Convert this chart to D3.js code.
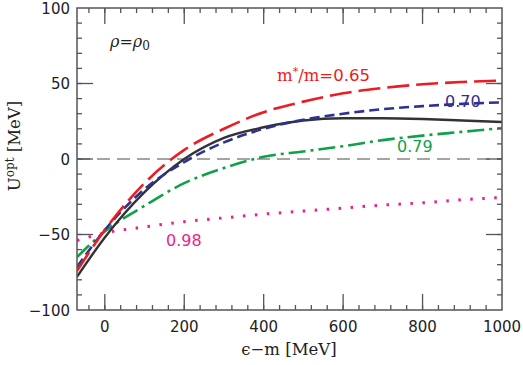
<!DOCTYPE html>
<html><head><meta charset="utf-8">
<script src="https://cdn.jsdelivr.net/npm/d3@7"></script>
<style>body{margin:0;background:#fff}svg{display:block}</style>
</head><body>
<script>
const xs = [-70, 0, 100, 200, 300, 400, 500, 600, 700, 800, 900, 1000];
const seriesBlack = [-78, -52, -22, 0, 14, 21, 25.5, 27, 27, 26.5, 25.5, 24.5];
const seriesRed   = [-74, -47, -16, 6, 20, 31, 38, 43.5, 47, 49.5, 51, 52];
const seriesBlue  = [-71.5, -47, -20, -2, 11, 20, 26, 30, 33, 35, 36.5, 37.5];
const seriesGreen = [-65, -48, -31, -16, -6, 1.5, 5, 8.5, 12.5, 15.5, 18, 20.5];
const seriesPink  = [-54, -49, -45, -41.5, -39, -36.5, -34.5, -32.5, -30.5, -29, -27, -25.5];
const xTicks = [0, 200, 400, 600, 800, 1000];
const yTicks = [-100, -50, 0, 50, 100];

const W = 523, H = 365;
const L = 77, R = 502, T = 8, B = 310;
const svg = d3.select("body").append("svg").attr("width", W).attr("height", H);
const x = d3.scaleLinear().domain([-70, 1000]).range([L, R]);
const y = d3.scaleLinear().domain([-100, 100]).range([B, T]);

svg.append("line").attr("x1", L).attr("x2", R).attr("y1", y(0)).attr("y2", y(0))
  .attr("stroke", "#888").attr("stroke-width", 1.6).attr("stroke-dasharray", "13,7");

const line = d3.line().x((d, i) => x(xs[i])).y(d => y(d)).curve(d3.curveMonotoneX);
const defs = [
  {d: seriesPink, c: "#ee1d8c", w: 3, dash: "2.5,9.5"},
  {d: seriesGreen, c: "#11a04a", w: 2.6, dash: "17,5,3,5"},
  {d: seriesBlack, c: "#333", w: 2.4, dash: null},
  {d: seriesBlue, c: "#2e3192", w: 2.6, dash: "10,5"},
  {d: seriesRed, c: "#ed1c24", w: 2.6, dash: "22,7"}
];
const g = svg.append("g");
g.append("clipPath").attr("id","cp").append("rect").attr("x",L).attr("y",T).attr("width",R-L).attr("height",B-T);
defs.forEach(s => {
  g.append("path").attr("d", line(s.d)).attr("fill", "none").attr("stroke", s.c)
    .attr("stroke-width", s.w).attr("stroke-dasharray", s.dash).attr("clip-path","url(#cp)");
});

const axc = "#555";
svg.append("rect").attr("x", L).attr("y", T).attr("width", R - L).attr("height", B - T)
  .attr("fill", "none").attr("stroke", axc).attr("stroke-width", 1.5);
const xMinor = d3.range(-40, 1000, 40);
const yMinor = d3.range(-90, 100, 10);
function tk(x1, y1, x2, y2) {
  svg.append("line").attr("x1", x1).attr("y1", y1).attr("x2", x2).attr("y2", y2)
    .attr("stroke", axc).attr("stroke-width", 1.3);
}
xMinor.forEach(v => { tk(x(v), B, x(v), B - 5); tk(x(v), T, x(v), T + 5); });
xTicks.forEach(v => { if (v < 1000) { tk(x(v), B, x(v), B - 16); tk(x(v), T, x(v), T + 16); } });
yMinor.forEach(v => { tk(L, y(v), L + 5, y(v)); tk(R, y(v), R - 5, y(v)); });
yTicks.forEach(v => { if (v > -100 && v < 100) { tk(L, y(v), L + 16, y(v)); tk(R, y(v), R - 16, y(v)); } });

const sans = "DejaVu Sans";
const serif = "DejaVu Serif";
xTicks.forEach(v => {
  svg.append("text").attr("x", x(v)).attr("y", 332).attr("text-anchor", "middle")
    .attr("font-family", sans).attr("font-size", 15).attr("fill", "#222").text(v);
});
yTicks.forEach(v => {
  svg.append("text").attr("x", 70).attr("y", y(v) + 5.5).attr("text-anchor", "end")
    .attr("font-family", sans).attr("font-size", 15).attr("fill", "#222")
    .text(v < 0 ? "\u2212" + Math.abs(v) : v);
});

svg.append("text").attr("x", 289).attr("y", 355).attr("text-anchor", "middle")
  .attr("font-family", serif).attr("font-size", 16.5).attr("fill", "#222").text("\u03f5\u2212m  [MeV]");
const yl = svg.append("text").attr("transform", "translate(20,146) rotate(-90)").attr("text-anchor", "middle")
  .attr("font-family", serif).attr("font-size", 16.5).attr("fill", "#222");
yl.append("tspan").text("U");
yl.append("tspan").attr("font-size", 12).attr("dy", -6).text("opt");
yl.append("tspan").attr("dy", 6).text(" [MeV]");

const rho = svg.append("text").attr("x", 110).attr("y", 47).attr("font-family", serif)
  .attr("font-size", 16).attr("font-style", "italic").attr("fill", "#222");
rho.append("tspan").text("\u03c1=\u03c1");
rho.append("tspan").attr("font-size", 12).attr("dy", 3).attr("font-style","normal").text("0");

const m = svg.append("text").attr("x", 277).attr("y", 81).attr("fill", "#ed1c24").attr("font-size", 16.5);
m.append("tspan").attr("font-family", serif).text("m");
m.append("tspan").attr("font-family", serif).attr("font-size", 11).attr("dy", -6).text("*");
m.append("tspan").attr("font-family", serif).attr("dy", 6).text("/m=");
m.append("tspan").attr("font-family", sans).text("0.65");

svg.append("text").attr("x", 445).attr("y", 107).attr("fill", "#2e3192").attr("font-family", sans).attr("font-size", 16).text("0.70");
svg.append("text").attr("x", 397).attr("y", 152).attr("fill", "#11a04a").attr("font-family", sans).attr("font-size", 16).text("0.79");
svg.append("text").attr("x", 166).attr("y", 246).attr("fill", "#ee1d8c").attr("font-family", sans).attr("font-size", 16).text("0.98");
</script>
</body></html>
